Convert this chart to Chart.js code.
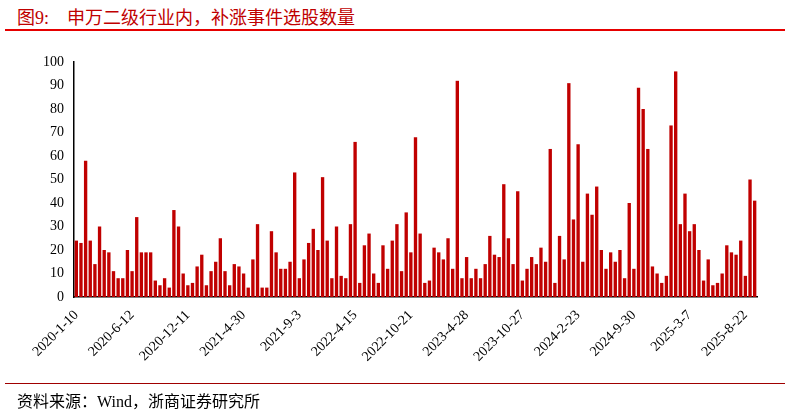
<!DOCTYPE html>
<html>
<head>
<meta charset="utf-8">
<script src="https://cdn.jsdelivr.net/npm/chart.js@4.4.1/dist/chart.umd.min.js"></script>
<style>
  html, body { margin: 0; padding: 0; background: #fff; }
  body { width: 791px; height: 413px; position: relative; overflow: hidden; }
  #title {
    position: absolute; left: 17px; top: 3px;
    font-family: "Liberation Serif", "Noto Sans CJK SC", serif;
    font-size: 18px; color: #C00000; white-space: pre;
  }
  #title span { margin-left: 18px; }
  #topLine { position: absolute; left: 5px; top: 29px; width: 780px; height: 2px; background: #E60000; }
  #bottomLine { position: absolute; left: 5px; top: 383px; width: 780px; height: 1px; background: #A00000; }
  #source {
    position: absolute; left: 17px; top: 388px;
    font-family: "Liberation Serif", "Noto Sans CJK SC", serif;
    font-size: 16px; color: #000;
  }
  #wrap { position: absolute; left: 0; top: 0; width: 791px; height: 413px; }
</style>
</head>
<body>
<div id="title">图9:<span>申万二级行业内，补涨事件选股数量</span></div>
<div id="topLine"></div>
<div id="wrap"><canvas id="chart"></canvas></div>
<div id="bottomLine"></div>
<div id="source">资料来源：Wind，浙商证券研究所</div>
<script>
// 补涨事件选股数量, one bar per event date
const counts = [
  24, 23, 58, 24, 14, 30, 20, 19, 11, 8, 8, 20, 11, 34, 19, 19, 19, 7, 5, 8, 4, 37, 30,
  10, 5, 6, 13, 18, 5, 11, 15, 25, 11, 5, 14, 13, 10, 4, 16, 31, 4, 4, 28, 19, 12, 12, 15, 53, 8, 16, 23, 29, 20,
  51, 24, 8, 30, 9, 8, 31, 66, 6, 22, 27, 10, 6, 22, 12, 24, 31, 11, 36, 19, 68, 27, 6, 7, 21, 19, 16, 25, 12, 92,
  8, 17, 8, 12, 8, 14, 26, 18, 17, 48, 25, 14, 45, 7, 12, 17, 14, 21, 15, 63, 6, 26, 16, 91, 33, 65, 15, 44, 35, 47,
  20, 12, 19, 15, 20, 8, 40, 12, 89, 80, 63, 13, 10, 6, 9, 73, 96, 31, 44, 28, 31, 20, 7, 16, 5, 6, 10, 22, 19, 18, 24, 9, 50, 41
];

// dates shown on the x axis (every 12th bar)
const tickLabels = [
  '2020-1-10', '2020-6-12', '2020-12-11', '2021-4-30', '2021-9-3', '2022-4-15', '2022-10-21',
  '2023-4-28', '2023-10-27', '2024-2-23', '2024-9-30', '2025-3-7', '2025-8-22'
];
const tickStep = 12;

const categories = counts.map((v, i) => i % tickStep === 0 ? tickLabels[i / tickStep] : '');

const serif = '"Liberation Serif", "Times New Roman", serif';

new Chart(document.getElementById('chart'), {
  type: 'bar',
  data: {
    labels: categories,
    datasets: [{
      label: '补涨事件选股数量',
      data: counts,
      backgroundColor: '#C00000',
      borderWidth: 0,
      barPercentage: 0.72,
      categoryPercentage: 1.0
    }]
  },
  options: {
    responsive: true,
    maintainAspectRatio: false,
    animation: false,
    layout: { padding: { left: 0, right: 34, top: 62, bottom: 0 } },
    plugins: {
      legend: { display: false },
      tooltip: { enabled: false }
    },
    scales: {
      x: {
        grid: { display: false, drawTicks: false },
        border: { display: true, color: '#000', width: 1.5 },
        ticks: {
          autoSkip: false,
          maxRotation: 45,
          minRotation: 45,
          padding: 10,
          color: '#000',
          font: { family: serif, size: 14 }
        },
        afterFit: (scale) => { scale.height = 116; }
      },
      y: {
        min: 0,
        max: 100,
        grid: { display: false, drawTicks: false },
        border: { display: true, color: '#000', width: 1.5 },
        ticks: {
          stepSize: 10,
          padding: 10,
          color: '#000',
          font: { family: serif, size: 14 }
        },
        afterFit: (scale) => { scale.width = 74; }
      }
    }
  }
});
</script>
</body>
</html>
